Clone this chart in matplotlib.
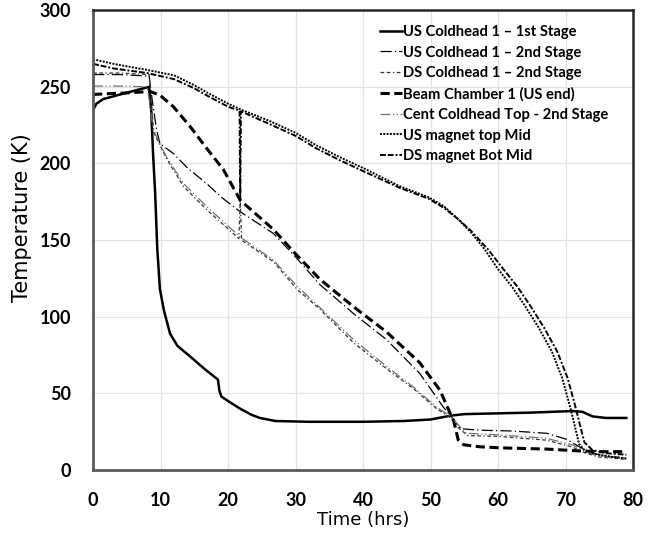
import matplotlib
matplotlib.use("Agg")
import matplotlib.pyplot as plt

plt.rcParams['font.family'] = ['Lato', 'DejaVu Sans']

# US Coldhead 1 - 1st Stage
t_us1 = [0, 0.5, 1.5, 4, 8.3, 8.6, 8.9, 9.2, 9.5, 9.9, 10.5, 11.4, 12.5, 14.4, 16.5, 18.5, 18.7, 19.0,
         20.0, 21.8, 23.5, 24.7, 27, 32, 40, 46, 50, 53, 55, 60, 65, 71, 72.5, 74, 76, 79]
T_us1 = [235, 239, 242, 245, 250, 235, 205, 180, 145, 118, 104, 89, 81, 74, 66, 59, 52, 48,
         45, 40, 36, 34, 32, 31.5, 31.5, 32, 33, 35.5, 36.5, 37, 37.5, 38.5, 38, 35, 34, 34]

# US Coldhead 1 - 2nd Stage
t_us2 = [0, 4, 8.3, 8.8, 9.4, 9.9, 11.9, 14, 16.8, 19, 21.8, 26.7, 30, 33.6, 38.6, 43.5, 48.4,
         51.9, 53.4, 54.4, 57.3, 62, 67.2, 70.2, 72.1, 74, 76, 79]
T_us2 = [258, 258, 257, 240, 222, 213, 206.5, 197, 187, 178, 168.5, 154.4, 139, 121, 102, 85, 63,
         41, 33, 27, 26, 25.5, 24, 20, 15, 11, 9, 8]

# DS Coldhead 1 - 2nd Stage
t_ds2 = [0, 4, 8.3, 8.6, 9.0, 10.9, 13.4, 16.8, 21.6, 21.8, 22.0, 26.7, 30.2, 33.6, 38.6, 43.5,
         47.5, 50.9, 53, 54, 55.5, 60, 67.2, 71, 73, 75, 79]
T_ds2 = [259, 259, 258, 240, 220, 203, 185, 170, 151, 176, 150, 136, 118, 105, 83, 66,
         53, 40, 34, 28, 22.5, 22, 19.5, 15, 11, 8.5, 7]

# Beam Chamber 1 (US end)
t_beam = [0, 2, 5, 8.4, 9.9, 11.9, 14.4, 16.8, 19.3, 21.8, 26.7, 30, 33.6, 38.6, 43.5, 48.4, 51.4,
          52.9, 53.4, 54.1, 54.9, 57.3, 60.3, 67.2, 72, 75, 79]
T_beam = [245, 245.5, 246, 247, 244.6, 237, 224, 210, 196, 176, 157, 141, 124.5, 106.5, 90, 70, 52,
          37, 32.5, 19.6, 16.5, 15.2, 14.5, 13.7, 12.5, 12, 12]

# Cent Coldhead Top - 2nd Stage
t_cent = [0, 4, 8, 8.4, 8.9, 10.9, 13.4, 16.8, 21.8, 26.7, 30.2, 33.6, 38.6, 43.5, 47.5, 50.9,
          53, 54, 55.3, 60, 67.2, 71.1, 73, 75, 79]
T_cent = [250.5, 250.5, 250, 239, 222, 204, 187, 172, 152, 137, 120, 106, 85, 67.5, 54, 41,
          35, 30, 24, 23, 20.7, 16.3, 12, 9, 8]

# US magnet top Mid
t_usm = [0, 3, 8, 12, 15, 17, 20, 22, 26, 30, 33, 36.6, 40.5, 45.5, 49.7, 52, 54, 56, 58, 60,
         62, 64, 66, 68, 69.5, 70.5, 71.3, 72, 73, 75, 77, 79]
T_usm = [268, 265, 261, 257.5, 251, 246, 239, 235, 228, 220, 212, 204, 196, 185, 178, 172, 164, 155, 144, 131,
         120, 107, 93, 77, 60, 44, 30, 17, 12, 10, 8.5, 7.5]

# DS magnet Bot Mid
t_dsm = [0, 3, 8, 12, 15, 17, 20, 21.7, 21.8, 21.9, 26, 30, 33, 36.6, 40.5, 45.5, 49.7, 52, 54, 56,
         58.5, 60.8, 62.8, 64.8, 66.8, 68.8, 70.3, 71.3, 72.1, 72.8, 74, 76, 79]
T_dsm = [265, 262, 259, 255, 249, 244, 237, 234.5, 176, 234, 226, 218, 210, 202, 194, 184, 177, 171, 164, 156,
         144, 131, 120, 107, 93, 77, 60, 44, 30, 18, 13, 11, 10]

fig = plt.figure(figsize=(6.65, 5.36), dpi=100)
ax = fig.add_axes([0.140, 0.123, 0.812, 0.858])

ax.plot(t_us1, T_us1, color='black', lw=1.8, ls='-', label='US Coldhead 1 \u2013 1st Stage')
ax.plot(t_us2, T_us2, color='black', lw=0.9, ls=(0, (9, 2.5, 1, 2.5)), label='US Coldhead 1 \u2013 2nd Stage')
ax.plot(t_ds2, T_ds2, color='#333333', lw=0.9, ls=(0, (3, 2, 3, 2, 1, 2)), label='DS Coldhead 1 \u2013 2nd Stage')
ax.plot(t_beam, T_beam, color='black', lw=2.2, ls=(0, (3, 1.5)), label='Beam Chamber 1 (US end)')
ax.plot(t_cent, T_cent, color='#707070', lw=0.9, ls=(0, (8, 2, 1, 2, 1, 2)), label='Cent Coldhead Top - 2nd Stage')
ax.plot(t_usm, T_usm, color='black', lw=1.4, ls=(0, (1, 0.7)), label='US magnet top Mid')
ax.plot(t_dsm, T_dsm, color='black', lw=1.4, ls=(0, (3, 1, 3, 1, 1, 1)), label='DS magnet Bot Mid')

ax.set_xlim(0, 80)
ax.set_ylim(0, 300)
ax.set_xticks(range(0, 81, 10))
ax.set_yticks(range(0, 301, 50))
ax.grid(True, color='#e3e3e3', lw=0.9)
ax.set_axisbelow(True)
ax.tick_params(length=0, pad=16, labelsize=13)
for lab in ax.get_xticklabels() + ax.get_yticklabels():
    lab.set_fontweight('bold')
for side in ['left', 'bottom']:
    ax.spines[side].set_linewidth(2)
    ax.spines[side].set_color('#5a5a5a')
for side in ['top', 'right']:
    ax.spines[side].set_linewidth(1.8)
    ax.spines[side].set_color('#262626')

ax.set_xlabel('Time (hrs)', fontsize=13, labelpad=1, family='DejaVu Sans')
ax.set_ylabel('Temperature (K)', fontsize=15, family='DejaVu Sans')
ax.yaxis.set_label_coords(-0.113, 0.548)

leg = ax.legend(loc='upper left', bbox_to_anchor=(0.531, 0.968), frameon=False,
                prop={'weight': 'bold', 'size': 10.6, 'family': 'Lato'}, handlelength=1.5,
                handletextpad=0.1, labelspacing=0.45, borderpad=0, borderaxespad=0)

fig.savefig('out.png', dpi=100)
